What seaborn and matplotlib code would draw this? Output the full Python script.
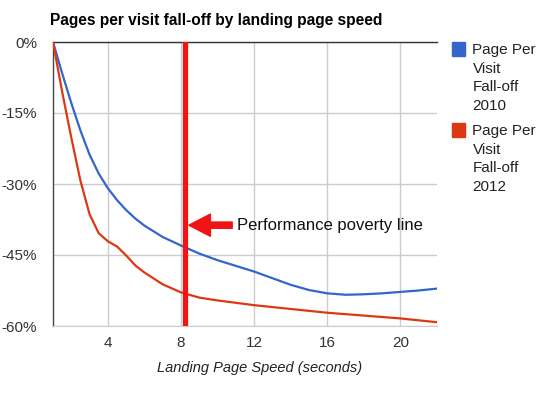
import pandas as pd
import numpy as np
import matplotlib
matplotlib.use('Agg')
import matplotlib.pyplot as plt
from matplotlib.patches import Rectangle
import seaborn as sns

# data (seconds -> % change in pages per visit)
seconds = [1, 1.5, 2, 2.5, 3, 3.5, 4, 4.5, 5, 5.5, 6, 7, 8, 9, 10, 11, 12,
           13, 14, 15, 16, 17, 18, 19, 20, 21, 22]
falloff_2010 = [0, -6.6, -12.9, -18.7, -23.8, -27.8, -30.9, -33.4, -35.5, -37.3,
                -38.8, -41.2, -43.0, -44.7, -46.1, -47.3, -48.5, -49.9, -51.3,
                -52.4, -53.1, -53.4, -53.3, -53.1, -52.8, -52.5, -52.1]
falloff_2012 = [0, -10.5, -20.2, -29.3, -36.4, -40.4, -42.1, -43.2, -45.1, -47.2,
                -48.7, -51.2, -52.9, -54.0, -54.6, -55.1, -55.6, -56.0, -56.4,
                -56.8, -57.2, -57.5, -57.8, -58.1, -58.4, -58.8, -59.2]
series_names = ['Page Per Visit Fall-off 2010', 'Page Per Visit Fall-off 2012']
legend_labels = ['Page Per\nVisit\nFall-off\n2010', 'Page Per\nVisit\nFall-off\n2012']
colors = ['#3366CC', '#DC3912']
y_ticks = [0, -15, -30, -45, -60]
x_ticks = [4, 8, 12, 16, 20]
poverty_line = 8.2

df = pd.DataFrame({
    'seconds': seconds * 2,
    'falloff': falloff_2010 + falloff_2012,
    'series': [series_names[0]] * len(seconds) + [series_names[1]] * len(seconds),
})

sns.set_style('white')
plt.rcParams['font.family'] = ['Liberation Sans', 'DejaVu Sans']

fig = plt.figure(figsize=(5.5, 3.94), dpi=100)
ax = fig.add_axes([53 / 550, 1 - 326 / 394, 384 / 550, 284 / 394])

sns.lineplot(data=df, x='seconds', y='falloff', hue='series', palette=colors,
             linewidth=1.6, legend=False, ax=ax, zorder=3)
for line in ax.get_lines():
    line.set_solid_joinstyle('round')

# the "performance poverty line" marker and its arrow
ax.axvline(poverty_line, color='#F01414', linewidth=3.8, zorder=4)
ax.annotate('', xy=(8.43, -38.7), xytext=(10.8, -38.7),
            arrowprops=dict(arrowstyle='simple,head_length=1.55,head_width=1.6,tail_width=0.45',
                            color='#F01414', shrinkA=0, shrinkB=0, mutation_scale=10))
ax.text(11.08, -38.7, 'Performance poverty line', fontsize=12, va='center',
        ha='left', color='#111111')

ax.set_xlim(1, 22)
ax.set_ylim(-60, 0)
ax.set_xticks(x_ticks)
ax.set_yticks(y_ticks)
ax.set_yticklabels([f'{v}%' for v in y_ticks])
ax.tick_params(axis='y', length=0, pad=11.5, labelsize=11, labelcolor='#333333')
ax.tick_params(axis='x', length=0, pad=7, labelsize=11, labelcolor='#333333')
ax.grid(True, color='#CCCCCC', linewidth=1)
ax.set_axisbelow(True)

ax.spines['right'].set_visible(False)
ax.spines['bottom'].set_color('#CCCCCC')
ax.spines['left'].set_color('#444444')
ax.spines['top'].set_color('#333333')
ax.spines['left'].set_linewidth(1)
ax.spines['top'].set_linewidth(1)

ax.set_ylabel('')
ax.set_xlabel('Landing Page Speed (seconds)', fontsize=10.5, style='italic',
              color='#222222')
ax.xaxis.set_label_coords((259.5 - 53) / 384, -(368 - 326) / 284)
ax.xaxis.label.set_va('center')

fig.text(50 / 550, 1 - 20.5 / 394, 'Pages per visit fall-off by landing page speed',
         fontsize=11.2, fontweight='bold', va='center', ha='left', color='#000000')

# legend drawn by hand: square on top of a wrapped label
legend_tops = [42.5, 123.5]
for top, name, c in zip(legend_tops, legend_labels, colors):
    fig.patches.append(Rectangle((452 / 550, 1 - (top + 13) / 394), 13 / 550, 13 / 394,
                                 transform=fig.transFigure, color=c))
    fig.text(472.5 / 550, 1 - (top + 0.5) / 394, name, fontsize=11, va='top', ha='left',
             color='#222222', linespacing=1.42)

fig.savefig('out.png', dpi=100)
